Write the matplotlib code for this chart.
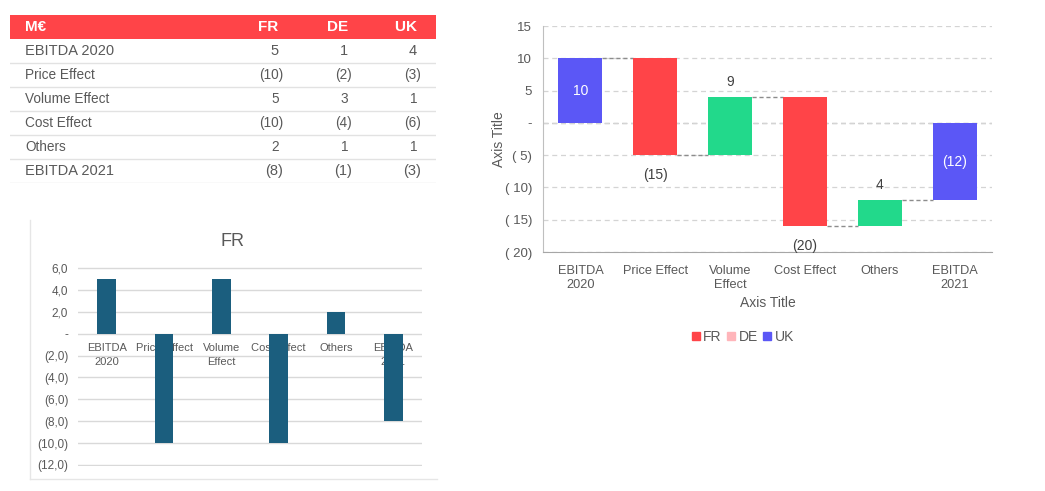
import matplotlib.pyplot as plt
from matplotlib.patches import Patch
from matplotlib.ticker import FuncFormatter, MultipleLocator

plt.rcParams['font.family'] = ['Liberation Sans', 'DejaVu Sans']

## data
categories = ["EBITDA 2020", "Price Effect", "Volume Effect", "Cost Effect", "Others", "EBITDA 2021"]
chart_labels = ["EBITDA\n2020", "Price Effect", "Volume\nEffect", "Cost Effect", "Others", "EBITDA\n2021"]
countries = ["FR", "DE", "UK"]
fr = [5, -10, 5, -10, 2, -8]
de = [1, -2, 3, -4, 1, -1]
uk = [4, -3, 1, -6, 1, -3]
is_total = [True, False, False, False, False, True]

RED = "#ff4448"
GREEN = "#22d98b"
BLUE = "#5b57f6"
PINK = "#ffb5ba"
TEAL = "#1b5e7e"
GREY_TXT = "#595959"

W, H = 1045, 491
fig = plt.figure(figsize=(W / 100, H / 100), dpi=100)


def fig_rect(x0, y0, x1, y1):
    # pixel box -> figure fraction rect
    return [x0 / W, 1 - y1 / H, (x1 - x0) / W, (y1 - y0) / H]


def acct(v):
    return f"({abs(v)})" if v < 0 else f"{v} "


##---------------------------------------------------------------------
## TABLE
##---------------------------------------------------------------------
tab = fig.add_axes(fig_rect(10, 15, 436, 183))
tab.set_xlim(10, 436)
tab.set_ylim(7, 0)
tab.axis("off")
tab.axhspan(0, 1, color=RED, lw=0)
col_right = [283, 352, 421]
tab.text(25, 0.5, "M€", color="white", fontweight="bold", fontsize=11, va="center")
for c, xr in zip(countries, col_right):
    tab.text(xr, 0.5, c + " ", color="white", fontweight="bold", fontsize=11, va="center", ha="right")
for r, cat in enumerate(categories):
    y = r + 1.5
    fs = 10.5 if is_total[r] else 9.8
    tab.text(25, y, cat, color=GREY_TXT, fontsize=fs, va="center")
    for vals, xr in zip([fr, de, uk], col_right):
        tab.text(xr, y, acct(vals[r]), color=GREY_TXT, fontsize=fs, va="center", ha="right")
    tab.axhline(r + 2, color="#e2e2e2", lw=1)

##---------------------------------------------------------------------
## FR BAR CHART
##---------------------------------------------------------------------
frame = fig.add_axes(fig_rect(30, 220, 437, 479))
frame.axis("off")
frame.plot([0, 0], [0, 1], color="#e6e6e6", lw=1, transform=frame.transAxes, clip_on=False)
frame.plot([0, 1], [0, 0], color="#e6e6e6", lw=1, transform=frame.transAxes, clip_on=False)
fig.text(233 / W, 1 - 241 / H, "FR", ha="center", va="center", fontsize=13, color=GREY_TXT)

ax1 = fig.add_axes(fig_rect(78, 267, 422, 466))
ax1.bar(range(len(fr)), fr, width=0.32, color=TEAL, zorder=3)
ax1.set_xlim(-0.5, 5.5)
ax1.set_ylim(-12.1, 6.1)
ax1.set_yticks([6, 4, 2, 0, -2, -4, -6, -8, -10, -12])
ax1.yaxis.set_major_formatter(FuncFormatter(
    lambda v, p: "-" if v == 0 else (f"{v:.1f}".replace(".", ",") if v > 0 else f"({abs(v):.1f})".replace(".", ","))))
ax1.grid(axis="y", color="#d9d9d9", lw=1, zorder=0)
ax1.set_xticks([])
for s in ax1.spines.values():
    s.set_visible(False)
ax1.tick_params(axis="y", length=0, labelsize=8.5, labelcolor=GREY_TXT, pad=7)
for i, lbl in enumerate(chart_labels):
    ax1.annotate(lbl, (i, 0), xytext=(0, -7), textcoords="offset points", ha="center", va="top",
                 fontsize=8, color=GREY_TXT, zorder=1, linespacing=1.4)

##---------------------------------------------------------------------
## WATERFALL
##---------------------------------------------------------------------
total = [a + b + c for a, b, c in zip(fr, de, uk)]
bottoms, heights, colors, levels = [], [], [], []
running = 0
for v, t in zip(total, is_total):
    if t:
        bottoms.append(0)
        running = v
        colors.append(BLUE)
    else:
        bottoms.append(running)
        running += v
        colors.append(GREEN if v > 0 else RED)
    heights.append(v)
    levels.append(running)

ax2 = fig.add_axes(fig_rect(543, 26, 992, 252))
bw = 0.59
x = list(range(len(total)))
ax2.bar(x, heights, bottom=bottoms, width=bw, color=colors, zorder=3)
ax2.set_xlim(-0.5, 5.5)
ax2.set_ylim(-20, 15)
ax2.yaxis.set_major_locator(MultipleLocator(5))
ax2.yaxis.set_major_formatter(FuncFormatter(
    lambda v, p: "-" if v == 0 else (f"{v:.0f}" if v > 0 else f"( {abs(v):.0f})")))
ax2.grid(axis="y", color="#d4d4d4", lw=0.9, ls=(0, (4, 3)), zorder=0)
ax2.axhline(0, color="#a6a6a6", lw=0.9, ls=(0, (4, 3)), zorder=1)
for s in ["top", "right"]:
    ax2.spines[s].set_visible(False)
ax2.spines["left"].set_color("#bfbfbf")
ax2.spines["bottom"].set_color("#a6a6a6")
ax2.tick_params(length=0, labelsize=9.5, labelcolor=GREY_TXT)
ax2.tick_params(axis="y", pad=8)
ax2.set_xticks(x)
ax2.set_xticklabels(chart_labels, linespacing=1.3)
ax2.tick_params(axis="x", pad=9, labelsize=9.2)
ax2.set_xlabel("Axis Title", fontsize=10, color=GREY_TXT)
ax2.set_ylabel("Axis Title", fontsize=10, color=GREY_TXT)
ax2.xaxis.set_label_coords(0.5, -0.196)
ax2.yaxis.set_label_coords(-0.083, 0.5)

## connectors
for i in range(len(total) - 1):
    ax2.plot([i + bw / 2, i + 1 - bw / 2], [levels[i], levels[i]], color="#8c8c8c",
             lw=1, ls=(0, (3, 2)), zorder=2)

## data labels
for i, (v, b, t) in enumerate(zip(total, bottoms, is_total)):
    txt = f"({abs(v)})" if v < 0 else f"{v}"
    if t:
        ax2.text(i, b + v / 2, txt, ha="center", va="center", color="white", fontsize=10, zorder=4)
    elif v > 0:
        ax2.annotate(txt, (i, b + v), xytext=(0, 6), textcoords="offset points",
                     ha="center", va="bottom", color="#404040", fontsize=10)
    else:
        ax2.annotate(txt, (i, b + v), xytext=(0, -9), textcoords="offset points",
                     ha="center", va="top", color="#404040", fontsize=10)

handles = [Patch(color=c) for c in [RED, PINK, BLUE]]
fig.legend(handles, countries, loc="center", bbox_to_anchor=(743 / W, 1 - 337 / H), ncol=3,
           frameon=False, handlelength=0.55, handleheight=0.55, handletextpad=0.25,
           columnspacing=0.4, fontsize=10, labelcolor=GREY_TXT)

fig.savefig("out.png", dpi=100, facecolor="white")
